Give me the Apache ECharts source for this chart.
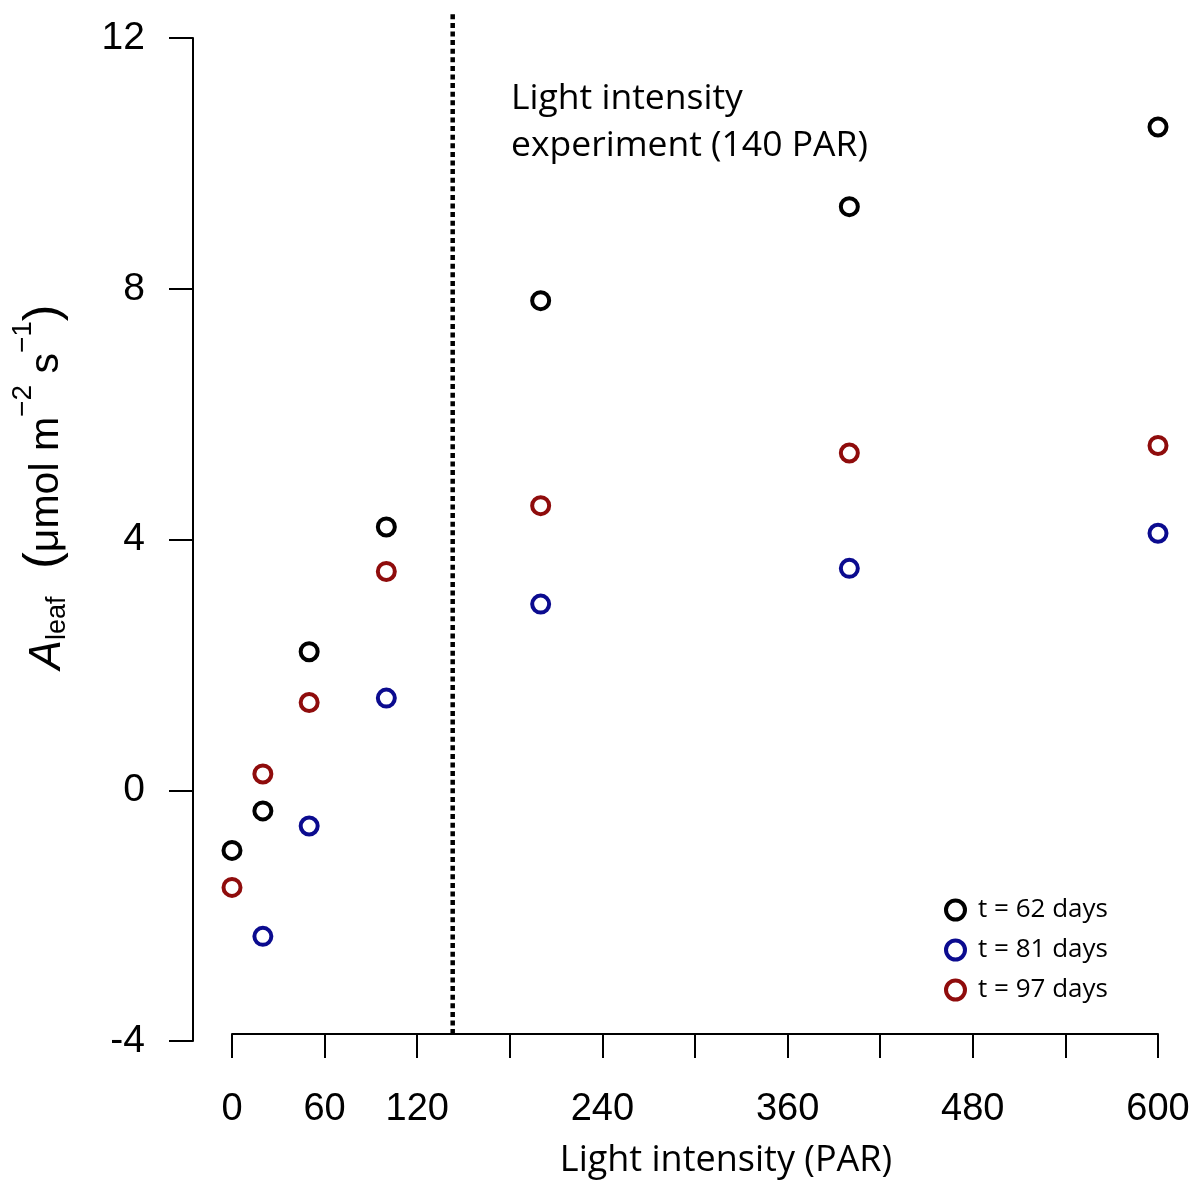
<!DOCTYPE html>
<html>
<head>
<meta charset="utf-8">
<script src="https://cdn.jsdelivr.net/npm/echarts@6/dist/echarts.min.js"></script>
<style>
html,body{margin:0;padding:0;background:#fff;}
#main{width:1197px;height:1184px;}
</style>
</head>
<body>
<div id="main"></div>
<script>
// ---- data ----
const lightPAR = [0, 20, 50, 100, 200, 400, 600];
const t62days = [-0.96, -0.33, 2.21, 4.2, 7.81, 9.31, 10.58];
const t81days = [null, -2.33, -0.57, 1.47, 2.97, 3.54, 4.1];
const t97days = [-1.55, 0.26, 1.4, 3.49, 4.54, 5.38, 5.5];
const seriesNames = ['t = 62 days', 't = 81 days', 't = 97 days'];
const xTickLabels = [0, 60, 120, 240, 360, 480, 600];
const yTickLabels = [-4, 0, 4, 8, 12];
const experimentPAR = 143;
const experimentSpan = [-3.89, 12.4];

const colors = ['#000000', '#0b0b8f', '#8f0c0c'];
const sans = "'Liberation Sans', Arial, sans-serif";
const myriad = "'Open Sans', 'Noto Sans', sans-serif";

function pairs(ys) {
  const out = [];
  ys.forEach((y, i) => { if (y !== null) out.push([lightPAR[i], y]); });
  return out;
}

const chart = echarts.init(document.getElementById('main'), null, {renderer: 'canvas'});
const scatter = (name, ys, c) => ({
  name: name,
  type: 'scatter',
  data: pairs(ys),
  symbol: 'circle',
  symbolSize: 17,
  itemStyle: {color: '#ffffff', borderColor: c, borderWidth: 4, opacity: 1},
  emphasis: {disabled: true},
  z: 5
});

chart.setOption({
  animation: false,
  backgroundColor: '#ffffff',
  grid: {left: 232, right: 39, top: 38, bottom: 143, containLabel: false},
  xAxis: {
    type: 'value', min: 0, max: 600, interval: 60,
    offset: -7,
    axisLine: {show: true, onZero: false, lineStyle: {color: '#000', width: 2}},
    axisTick: {show: true, length: 24, lineStyle: {color: '#000', width: 2}},
    splitLine: {show: false},
    axisLabel: {
      margin: 57, fontFamily: sans, fontSize: 38, color: '#000',
      formatter: v => xTickLabels.indexOf(v) >= 0 ? String(v) : ''
    }
  },
  yAxis: {
    type: 'value', min: -4, max: 12, interval: 4,
    offset: 39,
    axisLine: {show: true, onZero: false, lineStyle: {color: '#000', width: 2}},
    axisTick: {show: true, length: 24, lineStyle: {color: '#000', width: 2}},
    splitLine: {show: false},
    axisLabel: {
      margin: 48, fontFamily: sans, fontSize: 39, color: '#000',
      formatter: v => yTickLabels.indexOf(v) >= 0 ? String(v) : ''
    }
  },
  legend: {
    orient: 'vertical', left: 939, top: 892,
    itemWidth: 19, itemHeight: 19, itemGap: 14,
    icon: 'circle',
    itemStyle: {borderWidth: 4, color: '#fff'},
    textStyle: {fontFamily: myriad, fontSize: 26, color: '#000', padding: [0, 0, 0, 8]},
    data: seriesNames,
    selectedMode: false
  },
  series: [
    scatter(seriesNames[0], t62days, colors[0]),
    scatter(seriesNames[1], t81days, colors[1]),
    scatter(seriesNames[2], t97days, colors[2]),
    {
      name: 'experiment', type: 'line',
      data: [[experimentPAR, experimentSpan[0]], [experimentPAR, experimentSpan[1]]],
      symbol: 'none', clip: false, silent: true,
      lineStyle: {color: '#000', width: 4.5, type: [5, 3.6]},
      z: 3
    }
  ],
  graphic: [
    {
      type: 'text', left: 511, top: 75,
      style: {text: 'Light intensity\nexperiment (140 PAR)', font: "35.5px 'Open Sans', sans-serif", fill: '#000', lineHeight: 47}
    },
    {
      type: 'text', x: 726, y: 1161,
      style: {text: 'Light intensity (PAR)', font: "36px 'Open Sans', sans-serif", fill: '#000', textAlign: 'center', textVerticalAlign: 'middle'}
    },
    {
      type: 'text', x: 44, y: 487, rotation: Math.PI / 2,
      style: {
        text: '{a|A}{sub|leaf}{p|  (}{t|μmol m}{sup|−2}{t| s}{sup|−1}{p|)}',
        textAlign: 'center', textVerticalAlign: 'middle', fill: '#000',
        rich: {
          a: {fontFamily: sans, fontSize: 44, fontStyle: 'italic', lineHeight: 70, verticalAlign: 'middle', padding: [8, 0, 0, 0]},
          sub: {fontFamily: sans, fontSize: 27, lineHeight: 70, verticalAlign: 'bottom', padding: [0, 0, 8, 0]},
          p: {fontFamily: sans, fontSize: 50, lineHeight: 70, verticalAlign: 'middle'},
          t: {fontFamily: sans, fontSize: 41, lineHeight: 70, verticalAlign: 'middle', padding: [6, 0, 0, 0]},
          sup: {fontFamily: sans, fontSize: 28, lineHeight: 70, verticalAlign: 'top', padding: [0, 0, 0, 0]}
        }
      }
    }
  ]
});
</script>
</body>
</html>
